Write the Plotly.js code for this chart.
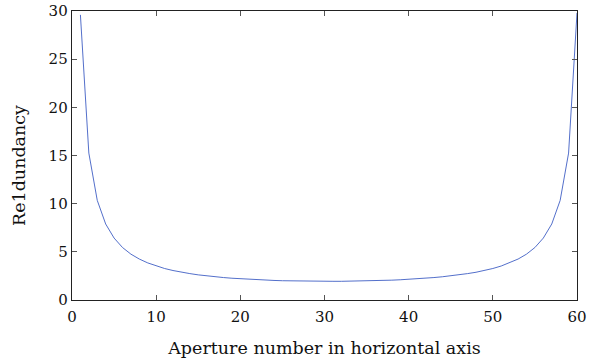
<!DOCTYPE html>
<html>
<head>
<meta charset="utf-8">
<script src="https://cdn.plot.ly/plotly-3.0.1.min.js"></script>
<style>html,body{margin:0;padding:0;background:#fff;}#chart{width:598px;height:360px;}</style>
</head>
<body>
<div id="chart"></div>
<script>
var apertureNumbers = [];
for (var i = 1; i <= 60; i++) apertureNumbers.push(i);
var redundancy = [
  29.6, 15.25, 10.34, 7.89, 6.43, 5.45, 4.76, 4.25, 3.85, 3.53,
  3.27, 3.06, 2.88, 2.74, 2.61, 2.50, 2.41, 2.33, 2.26, 2.20,
  2.14, 2.10, 2.06, 2.03, 2.00, 1.98, 1.96, 1.95, 1.94, 1.94,
  1.94, 1.94, 1.95, 1.96, 1.98, 2.00, 2.03, 2.06, 2.10, 2.14,
  2.20, 2.26, 2.33, 2.41, 2.50, 2.61, 2.74, 2.88, 3.06, 3.27,
  3.53, 3.85, 4.25, 4.76, 5.45, 6.43, 7.89, 10.34, 15.25, 29.8
];
var xTicks = [0, 10, 20, 30, 40, 50, 60];
var yTicks = [0, 5, 10, 15, 20, 25, 30];
var yTitle = 'Re1dundancy';
var xTitle = 'Aperture number in horizontal axis';

var fam = "'DejaVu Serif', 'Liberation Serif', serif";

Plotly.newPlot('chart', [{
  x: apertureNumbers,
  y: redundancy,
  type: 'scatter',
  mode: 'lines',
  line: {color: '#3f5fc4', width: 0.9},
  hoverinfo: 'none'
}], {
  width: 598, height: 360,
  margin: {l: 72, r: 21, t: 11, b: 60},
  paper_bgcolor: '#fff', plot_bgcolor: '#fff',
  showlegend: false,
  font: {family: fam, size: 15, color: '#111'},
  xaxis: {
    range: [0, 60], tickvals: xTicks, ticktext: xTicks.map(String),
    ticks: 'inside', ticklen: 5, tickcolor: '#555', tickwidth: 1,
    showline: true, linecolor: '#222', linewidth: 1.3, mirror: 'ticks',
    showgrid: false, zeroline: false, ticklabelstandoff: 3,
    tickfont: {family: fam, size: 15, color: '#111'},
    title: {text: xTitle, font: {family: fam, size: 17.5, color: '#111'}, standoff: 16}
  },
  yaxis: {
    range: [0, 30], tickvals: yTicks, ticktext: yTicks.map(String),
    ticks: 'inside', ticklen: 5, tickcolor: '#555', tickwidth: 1,
    showline: true, linecolor: '#222', linewidth: 1.3, mirror: 'ticks',
    showgrid: false, zeroline: false,
    tickfont: {family: fam, size: 15, color: '#111'}
  },
  annotations: [{
    text: yTitle, textangle: -90, showarrow: false,
    xref: 'paper', yref: 'paper', x: -0.105, y: 0.467,
    xanchor: 'center', yanchor: 'middle',
    font: {family: fam, size: 17.5, color: '#111'}
  }]
}, {staticPlot: true});
</script>
</body>
</html>
